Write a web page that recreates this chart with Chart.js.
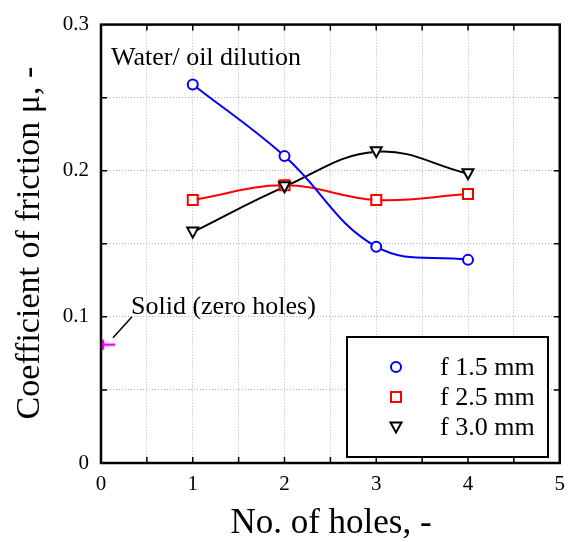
<!DOCTYPE html>
<html>
<head>
<meta charset="utf-8">
<script src="https://cdn.jsdelivr.net/npm/chart.js@4"></script>
<style>
  html, body { margin: 0; padding: 0; background: #fff; }
  canvas { display: block; }
</style>
</head>
<body>
<canvas id="chart" width="574" height="542"></canvas>
<script>
// values
const holes = [1, 2, 3, 4];
const mu15 = [0.259, 0.210, 0.148, 0.139];
const mu25 = [0.180, 0.190, 0.180, 0.184];
const mu30 = [0.158, 0.189, 0.213, 0.198];
const solidHoles = [0];
const solidMu = [0.081];
const seriesLabels = ['f 1.5 mm', 'f 2.5 mm', 'f 3.0 mm'];
const xTitle = 'No. of holes, -';
const yTitle = 'Coefficient of friction μ, -';
const noteText = 'Water/ oil dilution';
const solidText = 'Solid (zero holes)';

const SERIF = '"Liberation Serif", "DejaVu Serif", serif';

const toPoints = (xs, ys) => xs.map((x, i) => ({ x: x, y: ys[i] }));

// pink "|-" marker for the solid disc, drawn right of its point
const solidMark = document.createElement('canvas');
solidMark.width = 28;
solidMark.height = 14;
(function () {
    const g = solidMark.getContext('2d');
    g.strokeStyle = '#ff00ff';
    g.lineWidth = 2.5;
    g.beginPath();
    g.moveTo(16, 2); g.lineTo(16, 12);
    g.moveTo(16, 7); g.lineTo(28, 7);
    g.stroke();
})();

function drawMarker(ctx, style, x, y, color) {
    ctx.save();
    ctx.strokeStyle = color;
    ctx.lineWidth = 2;
    ctx.beginPath();
    if (style === 'circle') {
        ctx.arc(x, y, 5, 0, Math.PI * 2);
    } else if (style === 'rect') {
        ctx.rect(x - 5, y - 5, 10, 10);
    } else {
        ctx.moveTo(x - 5.5, y - 4.5);
        ctx.lineTo(x + 5.5, y - 4.5);
        ctx.lineTo(x, y + 5.5);
        ctx.closePath();
    }
    ctx.stroke();
    ctx.restore();
}

const framePlugin = {
    id: 'frame',
    afterDraw(chart) {
        const { ctx, chartArea: a, scales } = chart;
        const xs = scales.x, ys = scales.y;
        ctx.save();

        // inward ticks on all four sides
        ctx.strokeStyle = '#000';
        ctx.lineWidth = 1.5;
        ctx.beginPath();
        for (let v = 0.5; v < 5; v += 0.5) {
            const px = xs.getPixelForValue(v);
            ctx.moveTo(px, a.bottom); ctx.lineTo(px, a.bottom - 6);
            ctx.moveTo(px, a.top); ctx.lineTo(px, a.top + 6);
        }
        for (let i = 1; i < 6; i++) {
            const py = ys.getPixelForValue(i * 0.05);
            ctx.moveTo(a.left, py); ctx.lineTo(a.left + 6, py);
            ctx.moveTo(a.right, py); ctx.lineTo(a.right - 6, py);
        }
        ctx.stroke();

        // frame
        ctx.lineWidth = 2.5;
        ctx.strokeRect(a.left, a.top, a.right - a.left, a.bottom - a.top);

        // text notes
        ctx.fillStyle = '#000';
        ctx.font = '26px ' + SERIF;
        ctx.textAlign = 'left';
        ctx.textBaseline = 'alphabetic';
        ctx.fillText(noteText, a.left + 10, a.top + 40);

        const sx = xs.getPixelForValue(solidHoles[0]);
        const sy = ys.getPixelForValue(solidMu[0]);
        ctx.fillText(solidText, sx + 30, sy - 31);
        ctx.lineWidth = 1.5;
        ctx.beginPath();
        ctx.moveTo(sx + 12, sy - 7);
        ctx.lineTo(sx + 31, sy - 28);
        ctx.stroke();

        // legend box
        const bx = 347, by = 337, bw = 201, bh = 120;
        ctx.fillStyle = '#fff';
        ctx.fillRect(bx, by, bw, bh);
        ctx.strokeStyle = '#000';
        ctx.lineWidth = 2;
        ctx.strokeRect(bx, by, bw, bh);
        const styles = ['circle', 'rect', 'triangle'];
        const colors = ['#0000ff', '#ff0000', '#000000'];
        ctx.fillStyle = '#000';
        ctx.font = '26px ' + SERIF;
        ctx.textBaseline = 'alphabetic';
        seriesLabels.forEach((lab, i) => {
            const ly = by + 30 + i * 30;
            drawMarker(ctx, styles[i], bx + 49, ly, colors[i]);
            ctx.fillText(lab, bx + 93, ly + 8);
        });

        // axis titles
        ctx.font = '35px ' + SERIF;
        ctx.textAlign = 'center';
        ctx.fillText(xTitle, 331, 533);
        ctx.translate(39, 243);
        ctx.rotate(-Math.PI / 2);
        ctx.font = '34px ' + SERIF;
        ctx.fillText(yTitle, 0, 0);
        ctx.restore();
    }
};

const markerPlugin = {
    id: 'markers',
    afterDatasetsDraw(chart) {
        // open markers drawn over the lines
        const ctx = chart.ctx;
        const styles = ['circle', 'rect', 'triangle'];
        const colors = ['#0000ff', '#ff0000', '#000000'];
        for (let d = 0; d < 3; d++) {
            chart.getDatasetMeta(d).data.forEach(el => {
                ctx.save();
                ctx.fillStyle = '#fff';
                ctx.beginPath();
                ctx.arc(el.x, el.y, 4, 0, Math.PI * 2);
                ctx.fill();
                ctx.restore();
                drawMarker(ctx, styles[d], el.x, el.y, colors[d]);
            });
        }
    }
};

const gridStyle = {
    color: '#b4b4b4',
    lineWidth: 1,
    drawTicks: false
};
const borderStyle = { display: false, dash: [1, 2] };

new Chart(document.getElementById('chart'), {
    type: 'scatter',
    data: {
        datasets: [
            {
                label: seriesLabels[0],
                data: toPoints(holes, mu15),
                showLine: true,
                borderColor: '#0000ff',
                borderWidth: 2,
                tension: 0.4,
                pointRadius: 0
            },
            {
                label: seriesLabels[1],
                data: toPoints(holes, mu25),
                showLine: true,
                borderColor: '#ff0000',
                borderWidth: 2,
                tension: 0.4,
                pointRadius: 0
            },
            {
                label: seriesLabels[2],
                data: toPoints(holes, mu30),
                showLine: true,
                borderColor: '#000000',
                borderWidth: 2,
                tension: 0.4,
                pointRadius: 0
            },
            {
                label: 'solid',
                data: toPoints(solidHoles, solidMu),
                showLine: false,
                pointStyle: solidMark,
                pointRadius: 7,
                clip: false
            }
        ]
    },
    options: {
        responsive: false,
        animation: false,
        devicePixelRatio: 1,
        layout: { padding: { left: 0, top: 15, right: 14, bottom: 0 } },
        plugins: {
            legend: { display: false },
            tooltip: { enabled: false }
        },
        scales: {
            x: {
                type: 'linear',
                min: 0,
                max: 5,
                afterFit: (s) => { s.height = 79; },
                grid: gridStyle,
                border: borderStyle,
                ticks: {
                    stepSize: 0.5,
                    padding: 9,
                    color: '#000',
                    font: { family: SERIF, size: 21 },
                    maxRotation: 0,
                    autoSkip: false,
                    callback: (v) => (Math.abs(v - Math.round(v)) < 1e-6 ? String(Math.round(v)) : '')
                }
            },
            y: {
                type: 'linear',
                min: 0,
                max: 0.3,
                afterFit: (s) => { s.width = 101; },
                grid: gridStyle,
                border: borderStyle,
                ticks: {
                    stepSize: 0.05,
                    padding: 12,
                    color: '#000',
                    font: { family: SERIF, size: 21 },
                    autoSkip: false,
                    callback: (v) => {
                        const k = Math.round(v * 100);
                        if (k % 10 !== 0) return '';
                        return k === 0 ? '0' : (k / 100).toFixed(1);
                    }
                }
            }
        }
    },
    plugins: [markerPlugin, framePlugin]
});
</script>
</body>
</html>
